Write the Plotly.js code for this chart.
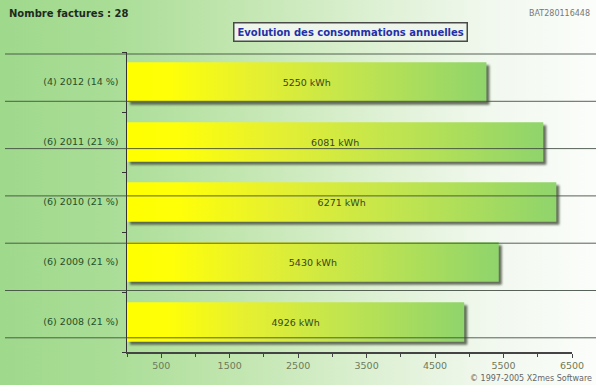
<!DOCTYPE html>
<html>
<head>
<meta charset="utf-8">
<script src="https://cdn.plot.ly/plotly-3.0.1.min.js"></script>
<style>
  html, body { margin: 0; padding: 0; }
  #chart {
    width: 596px; height: 385px;
    background: linear-gradient(to right, #9fd98c 0%, #a9dd96 18%, #c2e6b0 40%, #dcf0d2 62%, #f1f8ee 82%, #fbfdfa 100%);
  }
</style>
</head>
<body>
<div id="chart"></div>
<script>
// ---- data ----
const categories = ['(6) 2008 (21 %)', '(6) 2009 (21 %)', '(6) 2010 (21 %)', '(6) 2011 (21 %)', '(4) 2012 (14 %)'];
const consumption = [4926, 5430, 6271, 6081, 5250];
const xTickVals = [500, 1500, 2500, 3500, 4500, 5500, 6500];
const xTickText = ['500', '1500', '2500', '3500', '4500', '5500', '6500'];
const chartTitle = 'Evolution des consommations annuelles';
const invoiceCount = 'Nombre factures : 28';
const meterId = 'BAT280116448';
const copyright = '© 1997-2005 X2mes Software';

const font = 'DejaVu Sans, Verdana, sans-serif';

const trace = {
  type: 'bar',
  orientation: 'h',
  y: categories,
  x: consumption,
  width: 0.66,
  marker: { color: '#c8e840', line: { width: 0 } },
  text: consumption.map(v => v + ' kWh'),
  texttemplate: '%{text}',
  textposition: 'inside',
  insidetextanchor: 'middle',
  constraintext: 'none',
  textfont: { family: font, size: 9.5, color: '#3a461e' },
  hoverinfo: 'none'
};

// decorative horizontal rules across the whole chart
const shapes = [];
for (let i = 0; i < 7; i++) {
  const yp = (352 - (54 + i * 47.3)) / 300;
  shapes.push({
    type: 'line', xref: 'paper', yref: 'paper',
    x0: -122 / 445, x1: 1 + 24 / 445, y0: yp, y1: yp,
    line: { color: 'rgba(60,70,60,0.85)', width: 1 }, layer: 'above'
  });
}

const layout = {
  width: 596, height: 385,
  margin: { l: 127, r: 24, t: 52, b: 33 },
  paper_bgcolor: 'rgba(0,0,0,0)',
  plot_bgcolor: 'rgba(0,0,0,0)',
  showlegend: false,
  bargap: 0.34,
  font: { family: font },
  xaxis: {
    range: [0, 6500],
    tickvals: xTickVals, ticktext: xTickText,
    ticks: 'outside', ticklen: 4, tickcolor: '#444', tickwidth: 1,
    minor: { dtick: 500, tick0: 0, ticks: 'outside', ticklen: 3, tickcolor: '#444' },
    showgrid: false, zeroline: false,
    showline: true, linecolor: '#444', linewidth: 1.5,
    tickfont: { family: font, size: 9.5, color: '#6d7a5c' },
    fixedrange: true
  },
  yaxis: {
    type: 'category',
    categoryorder: 'array', categoryarray: categories,
    ticks: 'outside', ticklen: 4, tickcolor: '#333', tickson: 'boundaries',
    showgrid: false, zeroline: false,
    showline: true, linecolor: '#333', linewidth: 1.5,
    tickfont: { family: font, size: 9.5, color: '#27502a' },
    ticklabelstandoff: 5,
    fixedrange: true
  },
  shapes: shapes,
  annotations: [
    { text: '<b>' + invoiceCount + '</b>', xref: 'paper', yref: 'paper',
      x: -120 / 445, y: 1 + 38 / 300, xanchor: 'left', yanchor: 'middle', showarrow: false,
      font: { family: font, size: 10, color: '#1e2a1e' } },
    { text: meterId, xref: 'paper', yref: 'paper',
      x: 1 + 20 / 445, y: 1 + 38 / 300, xanchor: 'right', yanchor: 'middle', showarrow: false,
      font: { family: font, size: 8, color: '#777' } },
    { text: '<b>' + chartTitle + '</b>', xref: 'paper', yref: 'paper',
      x: (350 - 127) / 445, y: 1 + 20 / 300, xanchor: 'center', yanchor: 'middle', showarrow: false,
      font: { family: font, size: 10, color: '#2430a8' },
      bgcolor: '#eef6ec', bordercolor: '#4a4a4a', borderwidth: 1.5, borderpad: 3 },
    { text: copyright, xref: 'paper', yref: 'paper',
      x: 1 + 22 / 445, y: -26 / 300, xanchor: 'right', yanchor: 'middle', showarrow: false,
      font: { family: font, size: 8, color: '#666' } }
  ]
};

Plotly.newPlot('chart', [trace], layout, { displayModeBar: false, staticPlot: true }).then(gd => {
  const svg = gd.querySelector('svg.main-svg');
  const ns = 'http://www.w3.org/2000/svg';
  let defs = svg.querySelector('defs');
  if (!defs) { defs = document.createElementNS(ns, 'defs'); svg.insertBefore(defs, svg.firstChild); }
  const grad = document.createElementNS(ns, 'linearGradient');
  grad.setAttribute('id', 'barGrad');
  grad.setAttribute('x1', '0'); grad.setAttribute('x2', '1');
  grad.setAttribute('y1', '0'); grad.setAttribute('y2', '0');
  [[0, '#ffff00'], [0.12, '#ffff08'], [0.35, '#e6f030'], [0.65, '#bfe450'], [1, '#8fd46c']].forEach(([o, c]) => {
    const s = document.createElementNS(ns, 'stop');
    s.setAttribute('offset', o); s.setAttribute('stop-color', c);
    grad.appendChild(s);
  });
  defs.appendChild(grad);
  gd.querySelectorAll('.trace.bars .point path').forEach(p => {
    p.style.fill = 'url(#barGrad)';
    p.style.filter = 'drop-shadow(3px 3px 1px rgba(75,85,65,0.85))';
  });
});
</script>
</body>
</html>
